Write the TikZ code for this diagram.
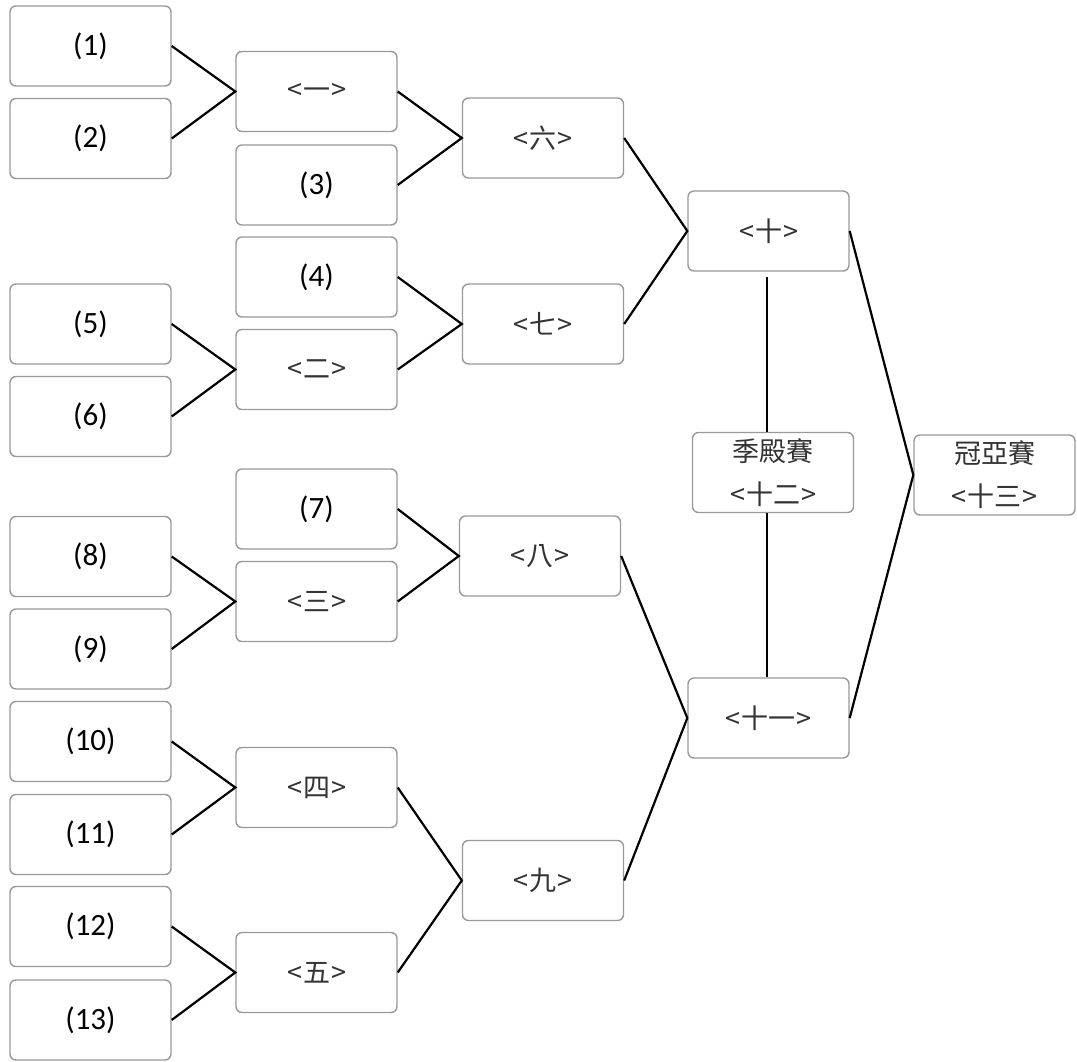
\documentclass[tikz,border=0pt]{standalone}
\usepackage{fontspec}
\setmainfont{Carlito}
\newfontfamily\cjk{Noto Sans CJK TC}
\newcommand{\mk}[1]{{\cjk <\kern1pt #1\kern1pt >}}
\begin{document}
\begin{tikzpicture}[x=1pt,y=-1pt,
  box/.style={draw=black!40, fill=white, rounded corners=6pt, line width=1.4pt,
    minimum width=161pt, minimum height=80pt, inner sep=0pt, text=black,
    font=\fontsize{31}{36}\selectfont},
  cbox/.style={box, font=\fontsize{27}{32}\selectfont, text=black!80},
  tbox/.style={box, align=center, font=\fontsize{27}{43}\selectfont, text=black!80},
  link/.style={line width=2.2pt, black}]
\useasboundingbox (0,0) rectangle (1077,1062);
% column 1
\node[box] (p1) at (90.5,46) {(1)};
\node[box] (p2) at (90.5,138.5) {(2)};
\node[box] (p5) at (90.5,324) {(5)};
\node[box] (p6) at (90.5,416.5) {(6)};
\node[box] (p8) at (90.5,556.5) {(8)};
\node[box] (p9) at (90.5,649) {(9)};
\node[box] (p10) at (90.5,741.5) {(10)};
\node[box] (p11) at (90.5,834.5) {(11)};
\node[box] (p12) at (90.5,926.5) {(12)};
\node[box] (p13) at (90.5,1020) {(13)};
% column 2
\node[cbox] (g1) at (316.5,91.5) {\mk{一}};
\node[box] (p3) at (316.5,185) {(3)};
\node[box] (p4) at (316.5,277) {(4)};
\node[cbox] (g2) at (316.5,369.5) {\mk{二}};
\node[box] (p7) at (316.5,509) {(7)};
\node[cbox] (g3) at (316.5,601.5) {\mk{三}};
\node[cbox] (g4) at (316.5,787.5) {\mk{四}};
\node[cbox] (g5) at (316.5,972.5) {\mk{五}};
% column 3
\node[cbox] (g6) at (543,138) {\mk{六}};
\node[cbox] (g7) at (543,324) {\mk{七}};
\node[cbox] (g8) at (540,556) {\mk{八}};
\node[cbox] (g9) at (543,880.5) {\mk{九}};
% column 4
\node[cbox] (g10) at (768.5,231) {\mk{十}};
\node[tbox] (g12) at (773,472.5) {{\cjk 季殿賽}\\\mk{十二}};
\node[cbox] (g11) at (768.5,718) {\mk{十一}};
% column 5
\node[tbox] (g13) at (994.5,475) {{\cjk 冠亞賽}\\\mk{十三}};
% connectors
\draw[link] (p1.east) -- (g1.west) -- (p2.east);
\draw[link] (p5.east) -- (g2.west) -- (p6.east);
\draw[link] (p8.east) -- (g3.west) -- (p9.east);
\draw[link] (p10.east) -- (g4.west) -- (p11.east);
\draw[link] (p12.east) -- (g5.west) -- (p13.east);
\draw[link] (g1.east) -- (g6.west) -- (p3.east);
\draw[link] (p4.east) -- (g7.west) -- (g2.east);
\draw[link] (p7.east) -- (g8.west) -- (g3.east);
\draw[link] (g4.east) -- (g9.west) -- (g5.east);
\draw[link] (g6.east) -- (g10.west) -- (g7.east);
\draw[link] (g8.east) -- (g11.west) -- (g9.east);
\draw[link] (g10.east) -- (g13.west) -- (g11.east);
\coordinate (v1) at ([xshift=-1.5pt,yshift=-5pt]g10.south);
\draw[link, line width=1.8pt] (v1) -- (v1 |- g12.north);
\draw[link, line width=1.8pt] (v1 |- g12.south) -- (v1 |- g11.north);
\end{tikzpicture}
\end{document}
